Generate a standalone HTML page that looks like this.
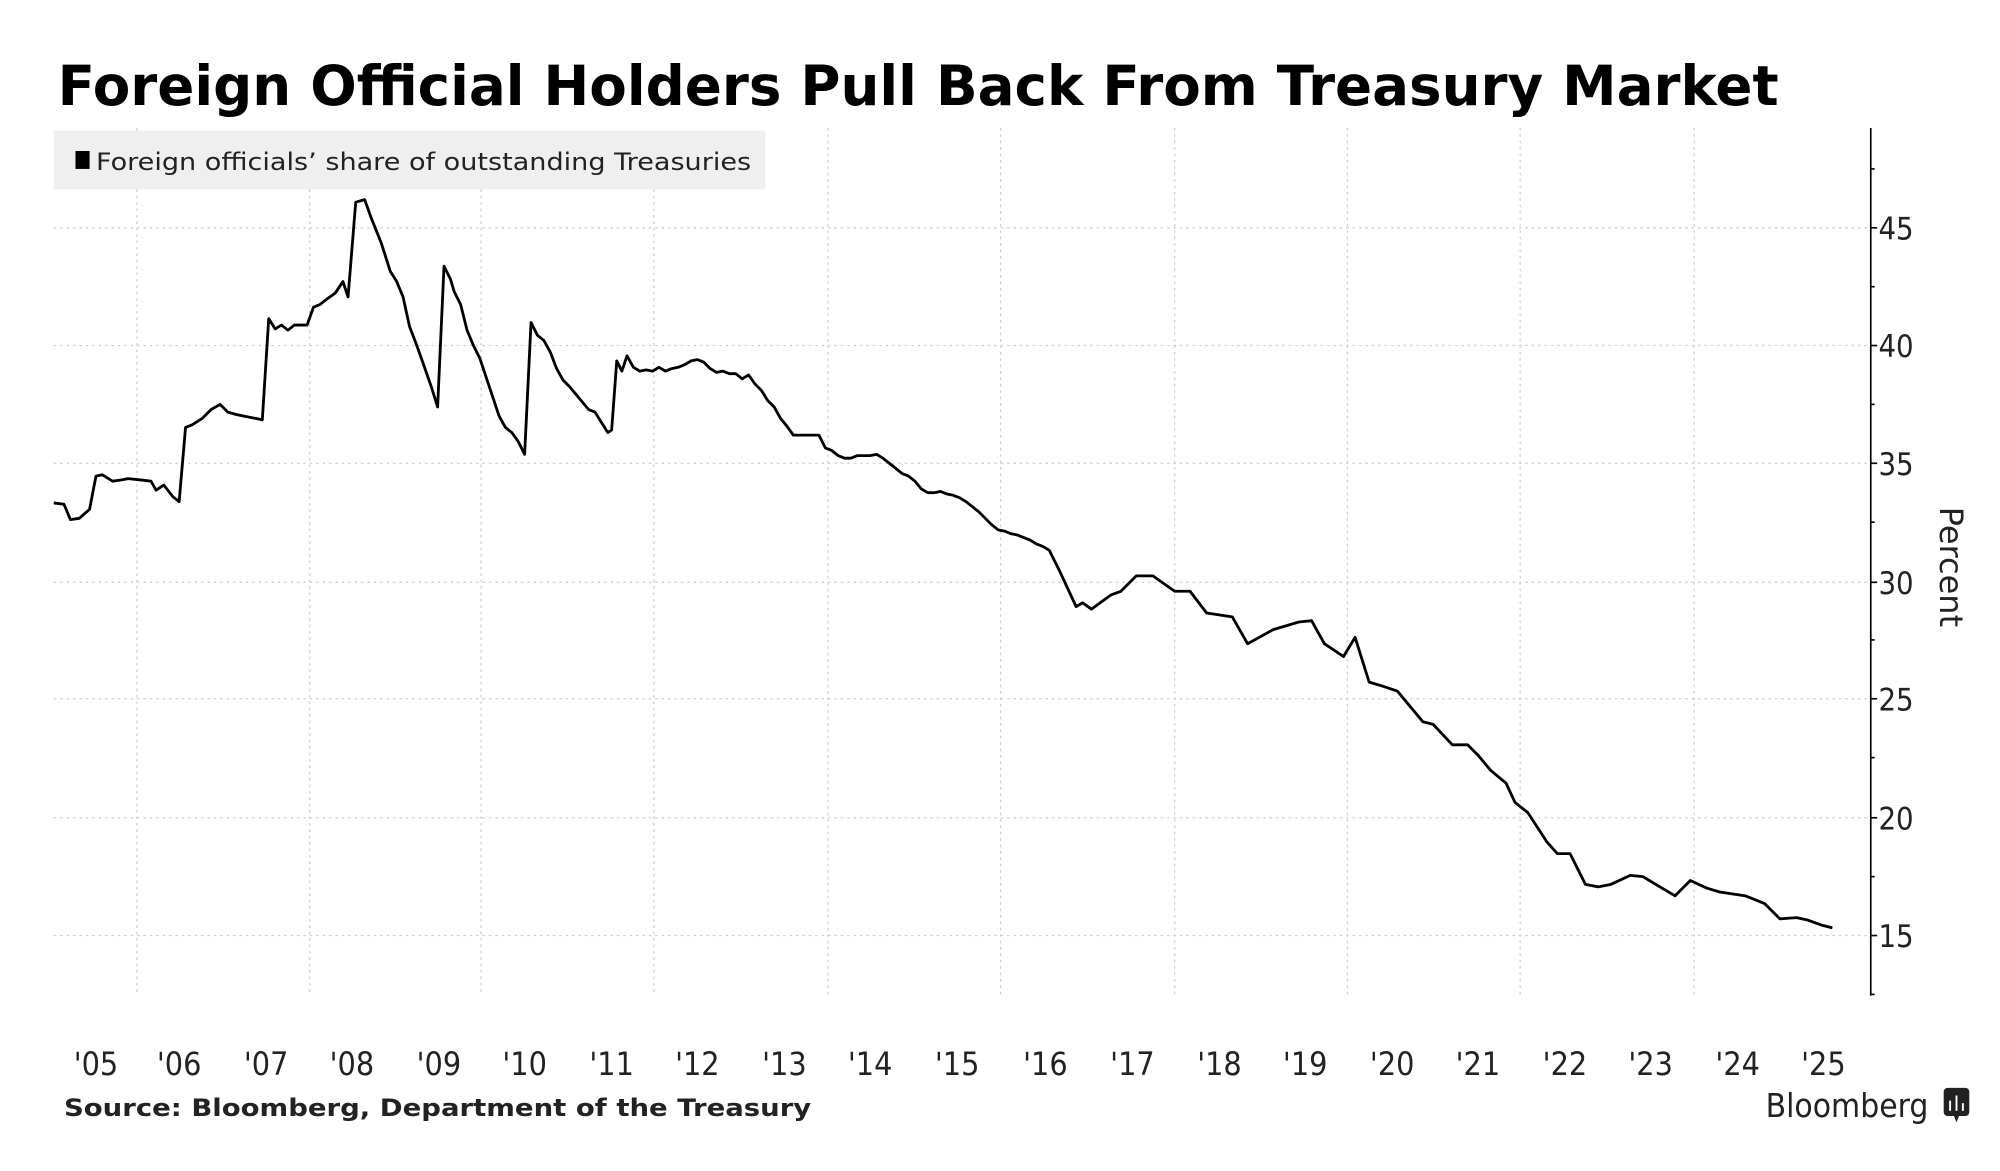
<!DOCTYPE html>
<html><head><meta charset="utf-8"><style>
html,body{margin:0;padding:0;background:#fff;}
svg{display:block;}
</style></head><body>
<svg width="2000" height="1171" viewBox="0 0 1563 915" preserveAspectRatio="none" xmlns="http://www.w3.org/2000/svg">
<rect width="1563" height="915" fill="#fff"/>
<text x="45" y="82" font-family="DejaVu Sans, Liberation Sans, sans-serif" font-weight="bold" font-size="43" textLength="1345" lengthAdjust="spacingAndGlyphs" fill="#000">Foreign Official Holders Pull Back From Treasury Market</text>
<rect x="42" y="102" width="556" height="46" fill="#efefef"/>
<g stroke="#cfcfcf" stroke-width="1" stroke-dasharray="2,3">
<line x1="42" y1="178" x2="1462" y2="178"/>
<line x1="42" y1="270" x2="1462" y2="270"/>
<line x1="42" y1="362" x2="1462" y2="362"/>
<line x1="42" y1="455" x2="1462" y2="455"/>
<line x1="42" y1="546" x2="1462" y2="546"/>
<line x1="42" y1="639" x2="1462" y2="639"/>
<line x1="42" y1="731" x2="1462" y2="731"/>
<line x1="107" y1="148" x2="107" y2="778"/><line x1="107" y1="100" x2="107" y2="102"/>
<line x1="242" y1="148" x2="242" y2="778"/>
<line x1="376" y1="148" x2="376" y2="778"/>
<line x1="511" y1="148" x2="511" y2="778"/>
<line x1="647" y1="100" x2="647" y2="778"/>
<line x1="782" y1="100" x2="782" y2="778"/>
<line x1="918" y1="100" x2="918" y2="778"/>
<line x1="1053" y1="100" x2="1053" y2="778"/>
<line x1="1188" y1="100" x2="1188" y2="778"/>
<line x1="1324" y1="100" x2="1324" y2="778"/>
</g>
<rect x="59" y="118" width="11" height="14" fill="#000"/>
<text x="75" y="133" font-family="DejaVu Sans, Liberation Sans, sans-serif" font-size="19" textLength="512" lengthAdjust="spacingAndGlyphs" fill="#222">Foreign officials’ share of outstanding Treasuries</text>
<g stroke="#000" stroke-width="1.3">
<line x1="1462" y1="100" x2="1462" y2="778"/>
<line x1="1462" y1="178" x2="1467" y2="178"/>
<line x1="1462" y1="270" x2="1467" y2="270"/>
<line x1="1462" y1="362" x2="1467" y2="362"/>
<line x1="1462" y1="455" x2="1467" y2="455"/>
<line x1="1462" y1="546" x2="1467" y2="546"/>
<line x1="1462" y1="639" x2="1467" y2="639"/>
<line x1="1462" y1="731" x2="1467" y2="731"/>
<line x1="1462" y1="132" x2="1465" y2="132"/>
<line x1="1462" y1="224" x2="1465" y2="224"/>
<line x1="1462" y1="316" x2="1465" y2="316"/>
<line x1="1462" y1="408" x2="1465" y2="408"/>
<line x1="1462" y1="500" x2="1465" y2="500"/>
<line x1="1462" y1="592" x2="1465" y2="592"/>
<line x1="1462" y1="685" x2="1465" y2="685"/>
<line x1="1462" y1="777" x2="1465" y2="777"/>
</g>
<g font-family="DejaVu Sans Condensed, DejaVu Sans, Liberation Sans, sans-serif" font-size="24" fill="#222">
<text x="1468" y="187">45</text>
<text x="1468" y="279">40</text>
<text x="1468" y="371">35</text>
<text x="1468" y="464">30</text>
<text x="1468" y="555">25</text>
<text x="1468" y="648">20</text>
<text x="1468" y="740">15</text>
</g>
<text transform="translate(1516,443) rotate(90)" text-anchor="middle" font-family="DejaVu Sans, Liberation Sans, sans-serif" font-size="25" fill="#222">Percent</text>
<g font-family="DejaVu Sans Condensed, DejaVu Sans, Liberation Sans, sans-serif" font-size="25" fill="#222" text-anchor="middle">
<text x="75" y="840">'05</text><text x="140" y="840">'06</text><text x="208" y="840">'07</text><text x="275" y="840">'08</text><text x="343" y="840">'09</text><text x="410" y="840">'10</text><text x="478" y="840">'11</text><text x="545" y="840">'12</text><text x="613" y="840">'13</text><text x="680" y="840">'14</text><text x="748" y="840">'15</text><text x="817" y="840">'16</text><text x="885" y="840">'17</text><text x="953" y="840">'18</text><text x="1020" y="840">'19</text><text x="1088" y="840">'20</text><text x="1155" y="840">'21</text><text x="1223" y="840">'22</text><text x="1290" y="840">'23</text><text x="1358" y="840">'24</text><text x="1425" y="840">'25</text>
</g>
<polyline fill="none" stroke="#000" stroke-width="2.2" stroke-linejoin="round" points="42,393 50,394 55,406 62,405 70,398 75,372 80,371 88,376 95,375 100,374 110,375 118,376 122,383 128,379 135,388 140,392 145,334 150,332 158,327 165,320 172,316 178,322 185,324 195,326 205,328 210,249 215,257 220,254 225,258 230,254 240,254 245,240 250,238 255,234 262,229 268,220 272,232 278,158 285,156 290,170 298,190 305,212 310,220 315,232 320,255 325,268 330,282 337,302 342,318 347,208 352,218 355,228 360,238 365,258 370,270 375,280 380,295 385,310 390,325 395,334 400,338 405,345 410,355 415,252 420,262 425,266 430,275 435,288 440,297 445,302 450,308 455,314 460,320 465,322 470,330 475,338 478,336 482,282 486,290 490,278 495,287 500,290 505,289 510,290 515,287 520,290 525,288 530,287 535,285 540,282 545,281 550,283 555,288 560,291 565,290 570,292 575,292 580,296 585,293 590,300 595,305 600,313 605,318 610,327 615,333 620,340 625,340 635,340 640,340 645,350 650,352 655,356 660,358 665,358 670,356 680,356 685,355 690,358 695,362 700,366 705,370 710,372 715,376 720,382 725,385 730,385 735,384 740,386 745,387 750,389 755,392 760,396 765,400 770,405 775,410 780,414 785,415 790,417 795,418 800,420 805,422 810,425 815,427 820,430 828,446 841,474 846,471 853,476 868,465 876,462 888,450 901,450 918,462 930,462 943,479 963,482 975,503 995,492 1015,486 1025,485 1035,503 1050,513 1059,498 1070,533 1080,536 1092,540 1112,564 1120,566 1135,582 1147,582 1155,590 1165,602 1177,612 1184,627 1194,635 1209,658 1217,667 1227,667 1239,691 1249,693 1259,691 1274,684 1284,685 1299,694 1309,700 1321,688 1334,694 1344,697 1364,700 1379,706 1391,718 1404,717 1413,719 1424,723 1432,725"/>
<text x="50" y="872" font-family="DejaVu Sans, Liberation Sans, sans-serif" font-weight="bold" font-size="19" textLength="584" lengthAdjust="spacingAndGlyphs" fill="#222">Source: Bloomberg, Department of the Treasury</text>
<text x="1507" y="873" text-anchor="end" font-family="DejaVu Sans Condensed, DejaVu Sans, Liberation Sans, sans-serif" font-size="26" fill="#222">Bloomberg</text>
<rect x="1519" y="850" width="20" height="22" rx="3" fill="#222"/>
<polygon points="1527,872 1531,872 1529,877" fill="#222"/>
<g stroke="#fff" stroke-width="1.5"><line x1="1524" y1="868" x2="1524" y2="860"/><line x1="1529" y1="868" x2="1529" y2="856"/><line x1="1534" y1="868" x2="1534" y2="862"/></g>
</svg>
</body></html>
